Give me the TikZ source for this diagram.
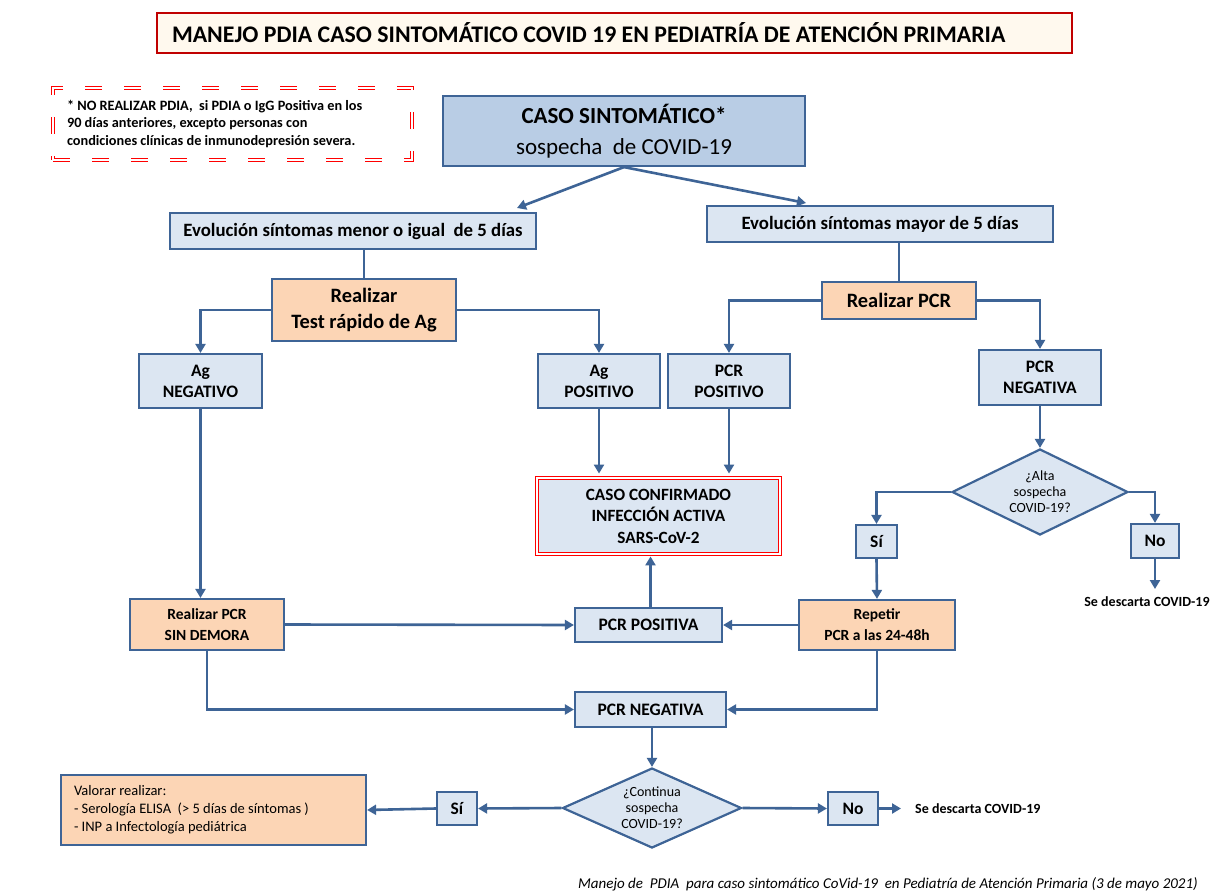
\documentclass[tikz,border=0pt]{standalone}
\usepackage{fontspec}
\setmainfont{Carlito}
\usetikzlibrary{arrows.meta,shapes.geometric}

\definecolor{boxblue}{RGB}{62,100,150}
\definecolor{lightblue}{RGB}{220,230,242}
\definecolor{headblue}{RGB}{185,205,229}
\definecolor{peach}{RGB}{252,213,181}
\definecolor{darkred}{RGB}{192,0,0}
\definecolor{cream}{RGB}{255,249,238}

\begin{document}
\begin{tikzpicture}[x=1pt,y=-1pt,
  box/.style={draw=boxblue,line width=2.2pt,fill=lightblue,align=center,inner sep=0pt,
    font=\bfseries\fontsize{17.5}{21}\selectfont},
  todo/.style={box,fill=peach},
  ask/.style={box,diamond,aspect=2,font=\fontsize{14}{16}\selectfont},
  arr/.style={draw=boxblue,line width=2.6pt,-{Triangle[width=10pt,length=9pt]}},
  link/.style={draw=boxblue,line width=2.6pt},
  small/.style={inner sep=0pt,font=\bfseries\fontsize{14}{16}\selectfont}]
  \useasboundingbox[fill=white] (0,0) rectangle (1211,894);

  % Title
  \node[draw=darkred,line width=2pt,fill=cream,minimum height=40pt,text width=885pt,
    inner xsep=15pt,align=flush left,font=\bfseries\fontsize{23.8}{26}\selectfont] (titulo) at (614.5,33)
    {MANEJO PDIA CASO SINTOMÁTICO COVID 19 EN PEDIATRÍA DE ATENCIÓN PRIMARIA};

  % Note
  \node[draw=red,double=white,double distance=1.6pt,line width=1.1pt,dash pattern=on 17pt off 22pt,
    text width=331pt,inner xsep=14pt,minimum height=72pt,align=flush left,
    font=\bfseries\fontsize{14.3}{17.3}\selectfont] (nota) at (232.5,124)
    {* NO REALIZAR PDIA,\ \ si PDIA o IgG Positiva en los\\ 90 días anteriores, excepto personas con\\ condiciones clínicas de inmunodepresión severa.};

  % Boxes
  \node[box,fill=headblue,minimum width=362pt,minimum height=70pt,font=\fontsize{23}{31}\selectfont] (caso) at (624,131)
    {\textbf{CASO SINTOMÁTICO*}\\ sospecha\ \ de COVID-19};
  \node[box,minimum width=366pt,minimum height=36pt,font=\bfseries\fontsize{18.8}{22}\selectfont] (menor) at (353,231)
    {Evolución síntomas menor o igual\ \ de 5 días};
  \node[box,minimum width=346pt,minimum height=36pt,font=\bfseries\fontsize{18.8}{22}\selectfont] (mayor) at (880,224)
    {Evolución síntomas mayor de 5 días};
  \node[todo,minimum width=184pt,minimum height=62pt,font=\bfseries\fontsize{20.4}{26}\selectfont] (test) at (364,310)
    {Realizar\\ Test rápido\ de Ag};
  \node[todo,minimum width=154pt,minimum height=37pt,font=\bfseries\fontsize{20.4}{24}\selectfont] (rpcr) at (899,300.5)
    {Realizar PCR};
  \node[box,minimum width=123pt,minimum height=54pt] (agneg) at (200.5,381) {Ag\\ NEGATIVO};
  \node[box,minimum width=122pt,minimum height=54pt] (agpos) at (599,381) {Ag\\ POSITIVO};
  \node[box,minimum width=122pt,minimum height=54pt] (pcrpos) at (729,381) {PCR\\ POSITIVO};
  \node[box,minimum width=122pt,minimum height=55pt] (pcrneg) at (1040,377.5) {PCR\\ NEGATIVA};
  \node[box,draw=red,line width=0.9pt,double=white,double distance=1.8pt,minimum width=243pt,minimum height=76pt,
    font=\bfseries\fontsize{17.2}{21.5}\selectfont] (conf) at (658.5,516)
    {CASO CONFIRMADO\\ INFECCIÓN ACTIVA\\ SARS-CoV-2};
  \node[ask,minimum width=176pt,minimum height=86pt] (alta) at (1040,492) {¿Alta\\ sospecha\\ COVID-19?};
  \node[box,minimum width=41pt,minimum height=33pt] (si1) at (876.5,541.5) {Sí};
  \node[box,minimum width=48pt,minimum height=34pt] (no1) at (1155,541) {No};
  \node[todo,minimum width=156pt,minimum height=50pt,font=\bfseries\fontsize{15.5}{21}\selectfont] (repetir) at (877,625)
    {Repetir\\ PCR a las 24-48h};
  \node[todo,minimum width=154pt,minimum height=51pt,font=\bfseries\fontsize{15.5}{21}\selectfont] (demora) at (207,624.5)
    {Realizar PCR\\ SIN DEMORA};
  \node[box,minimum width=147pt,minimum height=34pt] (posb) at (648.5,625) {PCR POSITIVA};
  \node[box,minimum width=151pt,minimum height=35pt] (negb) at (650.5,709.5) {PCR NEGATIVA};
  \node[ask,minimum width=179pt,minimum height=80pt] (sigue) at (652,808) {¿Continua\\ sospecha\\ COVID-19?};
  \node[box,minimum width=40pt,minimum height=33pt] (si2) at (457,808.5) {Sí};
  \node[box,minimum width=50pt,minimum height=33pt] (no2) at (853,808.5) {No};
  \node[todo,text width=279pt,inner xsep=13pt,minimum height=70pt,align=flush left,font=\fontsize{14.5}{18}\selectfont] (valorar) at (213.5,810)
    {Valorar realizar:\\ - Serología ELISA\ \ (> 5 días de síntomas )\\ - INP a Infectología pediátrica};

  % Outcomes
  \coordinate (fin1) at (1155,589);
  \node[small] (desc1) at (1147,602) {Se descarta COVID-19};
  \coordinate (fin2) at (901,808.5);
  \node[small,anchor=west] (desc2) at (915,808.5) {Se descarta COVID-19};
  \coordinate (tipL) at (517,208);
  \coordinate (tipR) at (806,203);

  % Connectors
  \draw[arr] (caso.south) -- (tipL);
  \draw[arr] (caso.south) -- (tipR);
  \draw[link] (test.north |- menor.south) -- (test.north);
  \draw[link] (rpcr.north |- mayor.south) -- (rpcr.north);
  \draw[arr] (test.west) -| (agneg.north);
  \draw[arr] (test.east) -| (agpos.north);
  \draw[arr] (rpcr.west) -| (pcrpos.north);
  \draw[arr] (rpcr.east) -| (pcrneg.north);
  \draw[arr,shorten >=4pt] (agpos.south) -- (agpos.south |- conf.north);
  \draw[arr,shorten >=4pt] (pcrpos.south) -- (pcrpos.south |- conf.north);
  \draw[arr] (pcrneg.south) -- (alta.north);
  \draw[arr] (alta.west) -| (si1.north);
  \draw[arr] (alta.east) -| (no1.north);
  \draw[arr] (no1.south) -- (fin1);
  \draw[arr] (si1.south) -- (repetir.north);
  \draw[arr] (agneg.south) -- (agneg.south |- demora.north);
  \draw[arr] (demora.east) -- (posb.west);
  \draw[arr] (repetir.west) -- (posb.east);
  \draw[arr,shorten >=2pt] ([xshift=2pt]posb.north) -- ([xshift=2pt]posb.north |- conf.south);
  \draw[arr] (demora.south) |- (negb.west);
  \draw[arr] (repetir.south) |- (negb.east);
  \draw[arr] (sigue.north |- negb.south) -- (sigue.north);
  \draw[arr] (sigue.west) -- (si2.east);
  \draw[arr] (si2.west) -- (valorar.east);
  \draw[arr] (sigue.east) -- (no2.west);
  \draw[arr] (no2.east) -- (fin2);

  % Footer
  \node[anchor=east,inner sep=0pt,font=\itshape\fontsize{15}{18}\selectfont] (pie) at (1198,884)
    {Manejo de\ \ PDIA\ \ para caso sintomático CoVid-19\ \ en Pediatría de Atención Primaria (3 de mayo 2021)};
\end{tikzpicture}
\end{document}
